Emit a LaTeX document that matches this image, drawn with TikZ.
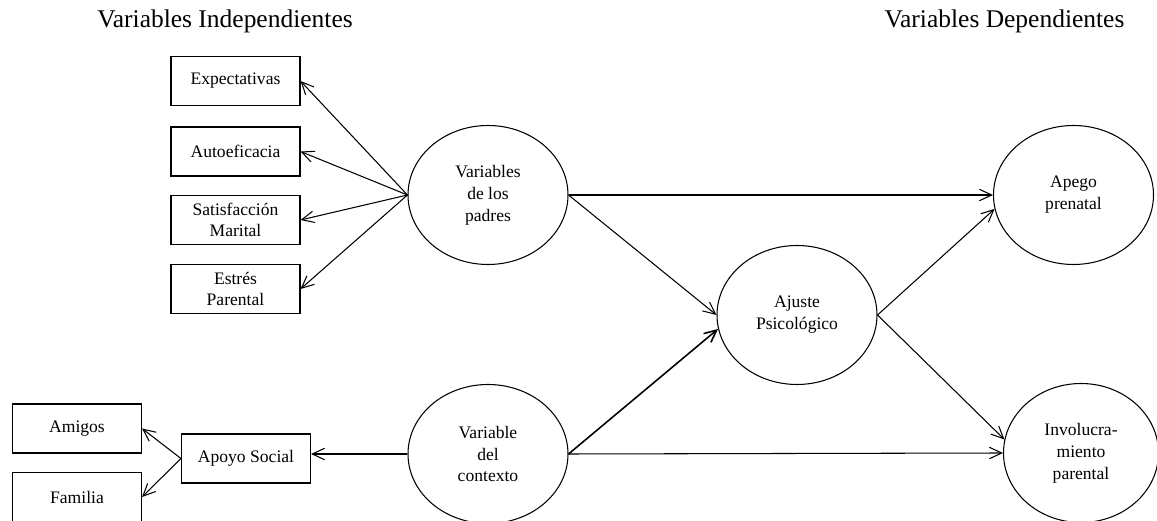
\documentclass[tikz,border=0pt]{standalone}
\usepackage{fontspec}
\setmainfont{Liberation Serif}
\usetikzlibrary{arrows.meta,shapes.geometric}

\begin{document}
\begin{tikzpicture}[
      myellipse/.style={
         ellipse,
         draw=black,
         line width=0.6pt,
         align=center,
         inner sep=0pt,
         minimum width=3.2cm,
         minimum height=2.78cm,
         font=\fontsize{10}{12.5}\selectfont},
      mybox/.style={
         rectangle,
         draw=black,
         line width=0.6pt,
         align=center,
         inner sep=0pt,
         minimum width=2.58cm,
         minimum height=0.98cm,
         font=\fontsize{10}{12}\selectfont},
      mytext/.style={
         rectangle,
         anchor=base,
         inner sep=0pt,
         font=\fontsize{14.5}{17}\selectfont},
      myarrow/.style={-{Straight Barb[length=7pt,width=6.5pt]}}
      ]
      \useasboundingbox (0,0) rectangle (23.14,10.42);
      \clip (0,0) rectangle (23.14,10.42);
      \node[mytext] (c21) at (4.50,9.86) {Variables Independientes};
      \node[mytext] (c22) at (20.09,9.86) {Variables Dependientes};
      \node[mybox] (c1) at (4.71,8.80) {Expectativas};
      \node[mybox] (c2) at (4.71,7.39) {Autoeficacia};
      \node[mybox] (c3) at (4.71,6.02) {Satisfacción\\Marital};
      \node[mybox] (c4) at (4.71,4.64) {Estrés\\Parental};
      \node[myellipse] (c5) at (9.76,6.52) {Variables\\de los\\padres};
      \node[mybox] (c6) at (1.54,1.85) {Amigos};
      \node[mybox] (c7) at (1.54,0.48) {Familia};
      \node[mybox] (c8) at (4.92,1.25) {Apoyo Social};
      \node[myellipse] (c9) at (9.76,1.34) {Variable\\del\\contexto};
      \node[myellipse] (c10) at (15.94,4.12) {Ajuste\\Psicológico};
      \node[myellipse] (c11) at (21.47,6.52) {Apego\\prenatal};
      \node[myellipse,minimum width=3.1cm] (c12) at (21.62,1.36) {Involucra-\\miento\\parental};
    \foreach \i/\j/\w in {% start node/end node/line width
      c5.west/c1.east/0.6pt,
      c5.west/c2.east/0.6pt,
      c5.west/c3.east/0.6pt,
      c5.west/c4.east/0.6pt,
      c9.west/c8.east |- c9.west/0.6pt,
      c8.west/c6.east/0.6pt,
      c8.west/c7.east/0.6pt,
      c5.east/c11.west/0.6pt,
      c5.east/c10.west/0.6pt,
      c9.east/c10.190/0.9pt,
      c9.east/c12.west/0.6pt,
      c10.east/c11.190/0.6pt,
      c10.east/c12.170/0.6pt}
       \draw [myarrow,line width=\w] (\i) -- (\j);
\end{tikzpicture}
\end{document}
